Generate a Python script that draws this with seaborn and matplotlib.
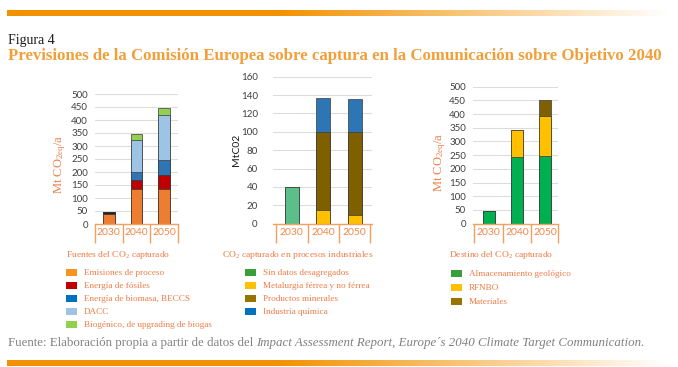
import numpy as np
import matplotlib.pyplot as plt
import seaborn as sns
from matplotlib.patches import Patch

sns.set_style("white")
plt.rcParams['font.family'] = ['Liberation Serif', 'DejaVu Serif']
plt.rcParams['mathtext.fontset'] = 'custom'
plt.rcParams['mathtext.rm'] = 'Liberation Serif'
plt.rcParams['mathtext.it'] = 'Liberation Serif:italic'

years = ['2030', '2040', '2050']

# Fuentes del CO2 capturado (Mt CO2eq/a)
fuentes_labels = ['Emisiones de proceso', 'Energía de fósiles', 'Energía de biomasa, BECCS',
                  'DACC', 'Biogénico, de upgrading de biogas']
emisiones_proceso = [40, 135, 133]
sin_asignar = [7, 0, 0]
energia_fosiles = [0, 33, 54]
energia_biomasa = [0, 32, 58]
dacc = [0, 122, 173]
biogenico = [0, 23, 30]
fuentes_bar_colors = ['#ED7D31', '#1E1E1E', '#C00000', '#2E75B6', '#9DC3E6', '#92D050']
fuentes_leg_colors = ['#F7941D', '#C00000', '#0070C0', '#9DC3E6', '#92D050']

# CO2 capturado en procesos industriales (MtCO2)
industria_labels = ['Sin datos desagregados', 'Metalurgia férrea y no férrea',
                    'Productos minerales', 'Industria química']
sin_datos = [40, 0, 0]
metalurgia = [0, 15, 10]
minerales = [0, 85, 90]
quimica = [0, 37, 36]
industria_bar_colors = ['#5CBF8A', '#FFC000', '#7F6000', '#2E75B6']
industria_leg_colors = ['#3A9E3A', '#FFC000', '#997300', '#0070C0']

# Destino del CO2 capturado (Mt CO2eq/a)
destino_labels = ['Almacenamiento geológico', 'RFNBO', 'Materiales']
almacenamiento = [45, 245, 247]
rfnbo = [0, 98, 146]
materiales = [3, 0, 59]
destino_bar_colors = ['#00B050', '#FFC000', '#7F6000']
destino_leg_colors = ['#3A9E3A', '#FFC000', '#997300']

ORANGE = '#F39200'
TEXT_ORANGE = '#EE7B45'
EDGE = '#3A3A3A'


def stacked(ax, layers, colors, width):
    cum = np.cumsum(np.array(layers), axis=0)
    for vals, col in reversed(list(zip(cum, colors))):
        sns.barplot(x=years, y=vals, color=col, width=width, saturation=1,
                    errorbar=None, edgecolor=EDGE, linewidth=0.5, ax=ax)


def style_axis(ax, ymax, step, xlim, seps, pad):
    ax.set_ylim(0, ymax)
    ax.set_yticks(np.arange(0, ymax + 1, step))
    ax.set_xlim(*xlim)
    ax.grid(axis='y', color='#dcdcdc', linewidth=0.8)
    ax.set_axisbelow(True)
    for s in ['top', 'right', 'left']:
        ax.spines[s].set_visible(False)
    ax.spines['bottom'].set_color('#F0A060')
    ax.spines['bottom'].set_linewidth(1)
    ax.tick_params(axis='y', length=0, pad=pad, labelsize=7, labelcolor='#404040')
    ax.tick_params(axis='x', which='major', length=0, pad=3, labelsize=7.5, labelcolor='#F0884A')
    ax.set_xticks(seps, minor=True)
    ax.tick_params(axis='x', which='minor', bottom=True, length=14, width=1,
                   color='#F0A060', direction='out')
    for lab in ax.get_xticklabels() + ax.get_yticklabels():
        lab.set_family('Lato')


fig = plt.figure(figsize=(6.78, 3.67), dpi=100)

# background layer in pixel coordinates
bg = fig.add_axes([0, 0, 1, 1], zorder=-1)
bg.axis('off')
grad_x = np.linspace(7, 670, 400)
alpha = np.clip((670 - grad_x) / (670 - 280), 0, 1)
rgba = np.zeros((1, len(grad_x), 4))
rgba[..., :3] = np.array([0xF3, 0x92, 0x00]) / 255
rgba[..., 3] = alpha
bg.imshow(rgba, extent=(7, 670, 15.7, 10), aspect='auto')
bg.imshow(rgba, extent=(7, 670, 366, 360.5), aspect='auto')
bg.set_xlim(0, 678)
bg.set_ylim(367, 0)

bg.text(8, 44, 'Figura 4', fontsize=10, color='#1a1a1a', va='baseline')
bg.text(8, 60, 'Previsiones de la Comisión Europea sobre captura en la Comunicación sobre Objetivo 2040',
        fontsize=12.1, fontweight='bold', color='#F29F3A', va='baseline')
src = bg.text(8, 346, 'Fuente: Elaboración propia a partir de datos del ', fontsize=9.3,
              color='#808080', va='baseline')
bg.annotate("Impact Assessment Report, Europe´s 2040 Climate Target Communication.",
            xy=(1, 0), xycoords=src, va='bottom', ha='left', fontsize=9.3,
            style='italic', color='#808080')

# chart 1
ax1 = fig.add_axes([95 / 678, 1 - 224 / 367, 83 / 678, 130 / 367])
stacked(ax1, [emisiones_proceso, sin_asignar, energia_fosiles, energia_biomasa, dacc, biogenico],
        fuentes_bar_colors, 0.43)
style_axis(ax1, 500, 50, (-0.5, 2.5), [-0.5, 0.5, 1.5, 2.5], 5)
ax1.set_ylabel('Mt CO$_{\\mathrm{2eq}}$/a', fontsize=9, color=TEXT_ORANGE)
ax1.yaxis.set_label_coords(-0.33, 0.46)

# chart 2
ax2 = fig.add_axes([273 / 678, 1 - 223.7 / 367, 99 / 678, 147 / 367])
stacked(ax2, [sin_datos, metalurgia, minerales, quimica], industria_bar_colors, 0.45)
style_axis(ax2, 160, 20, (-0.6, 2.55), [-0.5, 0.5, 1.5, 2.5], 11)
ax2.set_ylabel('MtC02', fontsize=7.5, color='#1a1a1a', family='Lato')
ax2.yaxis.set_label_coords(-0.32, 0.5)

# chart 3
ax3 = fig.add_axes([473 / 678, 1 - 223.7 / 367, 85 / 678, 137 / 367])
stacked(ax3, [almacenamiento, rfnbo, materiales], destino_bar_colors, 0.42)
style_axis(ax3, 500, 50, (-0.55, 2.45), [-0.5, 0.5, 1.5, 2.45], 5)
ax3.set_ylabel('Mt CO$_{\\mathrm{2eq}}$/a', fontsize=9, color=TEXT_ORANGE)
ax3.yaxis.set_label_coords(-0.30, 0.45)

# legends
leg_specs = [
    ('Fuentes del CO$_{\\mathrm{2}}$ capturado', 66, 66, fuentes_labels, fuentes_leg_colors, 0.47, 268.5),
    ('CO$_{\\mathrm{2}}$ capturado en procesos industriales', 222, 245, industria_labels,
     industria_leg_colors, 0.47, 268.5),
    ('Destino del CO$_{\\mathrm{2}}$ capturado', 449, 451, destino_labels, destino_leg_colors, 0.58, 269.5),
]
for title, tx, lx, labels, colors, spacing, top in leg_specs:
    bg.text(tx, 255, title, fontsize=6.8, color=TEXT_ORANGE, va='center')
    handles = [Patch(facecolor=c, edgecolor='none', label=l) for l, c in zip(labels, colors)]
    fig.legend(handles=handles, loc='upper left', bbox_to_anchor=(lx / 678, 1 - top / 367),
               frameon=False, fontsize=6.6, labelcolor=TEXT_ORANGE, handlelength=1.2,
               handleheight=0.8, handletextpad=0.75, labelspacing=spacing,
               borderpad=0, borderaxespad=0)

fig.savefig('out.png', dpi=100)
